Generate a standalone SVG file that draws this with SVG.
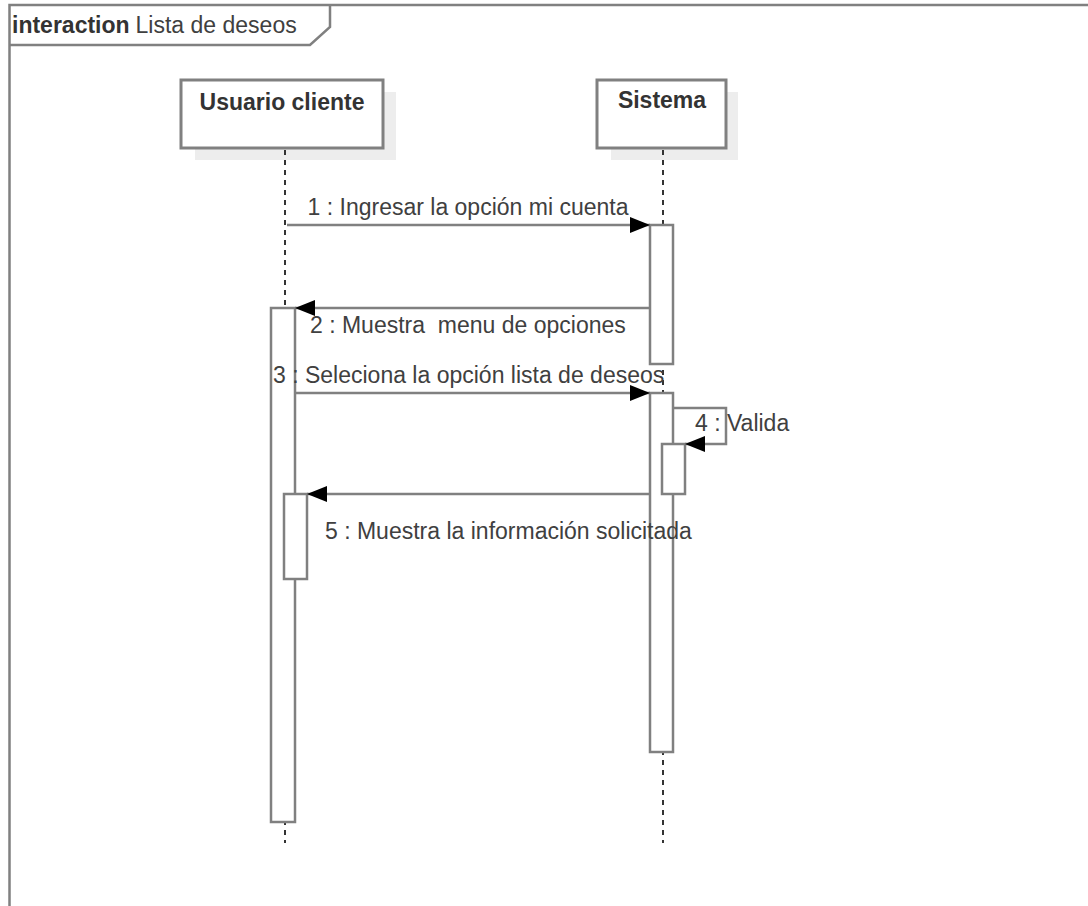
<svg xmlns="http://www.w3.org/2000/svg" width="1088" height="906" viewBox="0 0 1088 906">
  <style>
    .frame{fill:none;stroke:#808080;stroke-width:2.5}
    .head{fill:#fff;stroke:#808080;stroke-width:3}
    .shadow{fill:#ededed;stroke:none}
    .life{stroke:#333;stroke-width:2;stroke-dasharray:5 5;fill:none}
    .act{fill:#fff;stroke:#808080;stroke-width:2.5}
    .msg{fill:none;stroke:#808080;stroke-width:2.5}
    .t{font-family:"Liberation Sans",Arial,sans-serif;font-size:23px;fill:#404040}
    .b{font-family:"Liberation Sans",Arial,sans-serif;font-size:23px;font-weight:bold;fill:#333}
  </style>
  <defs>
    <marker id="arr" markerUnits="userSpaceOnUse" markerWidth="22" markerHeight="18" refX="20" refY="8" orient="auto">
      <path d="M0,0 L20,8 L0,16 z" fill="#000"/>
    </marker>
  </defs>
  <rect width="1088" height="906" fill="#fff"/>

  <g id="frame">
    <path class="frame" d="M9.5,906 V5 H1088"/>
    <path class="frame" d="M9.5,45 H310 L330,27 V5"/>
    <text x="12" y="33"><tspan class="b">interaction</tspan><tspan class="t" dx="6">Lista de deseos</tspan></text>
  </g>

  <g id="usuario">
    <rect class="shadow" x="195" y="92" width="201" height="68"/>
    <rect class="head" x="181" y="80" width="202" height="68"/>
    <text class="b" x="282" y="110" text-anchor="middle">Usuario cliente</text>
    <line class="life" x1="285" y1="150" x2="285" y2="843"/>
    <rect class="act" x="271" y="308" width="24" height="514"/>
    <rect class="act" x="284" y="494" width="23" height="85"/>
  </g>

  <g id="sistema">
    <rect class="shadow" x="611" y="92" width="127" height="68"/>
    <rect class="head" x="597" y="80" width="129" height="68"/>
    <text class="b" x="662" y="108" text-anchor="middle">Sistema</text>
    <line class="life" x1="663" y1="150" x2="663" y2="843"/>
    <rect class="act" x="650" y="225" width="23" height="139"/>
    <rect class="act" x="650" y="393" width="23" height="359"/>
    <rect class="act" x="662" y="444" width="23" height="50"/>
  </g>

  <g id="connectors">
    <line class="msg" x1="287" y1="225" x2="650" y2="225" marker-end="url(#arr)"/>
    <text class="t" x="468" y="215" text-anchor="middle">1 : Ingresar la opción mi cuenta</text>

    <line class="msg" x1="650" y1="308" x2="295" y2="308" marker-end="url(#arr)"/>
    <text class="t" x="310" y="333" xml:space="preserve">2 : Muestra  menu de opciones</text>

    <line class="msg" x1="295" y1="393" x2="650" y2="393" marker-end="url(#arr)"/>
    <text class="t" x="273" y="383">3 : Seleciona la opción lista de deseos</text>

    <polyline class="msg" points="673,408 726,408 726,444 685,444" marker-end="url(#arr)"/>
    <text class="t" x="695" y="431">4 : Valida</text>

    <line class="msg" x1="650" y1="494" x2="307" y2="494" marker-end="url(#arr)"/>
    <text class="t" x="325" y="539">5 : Muestra la información solicitada</text>
  </g>
</svg>
